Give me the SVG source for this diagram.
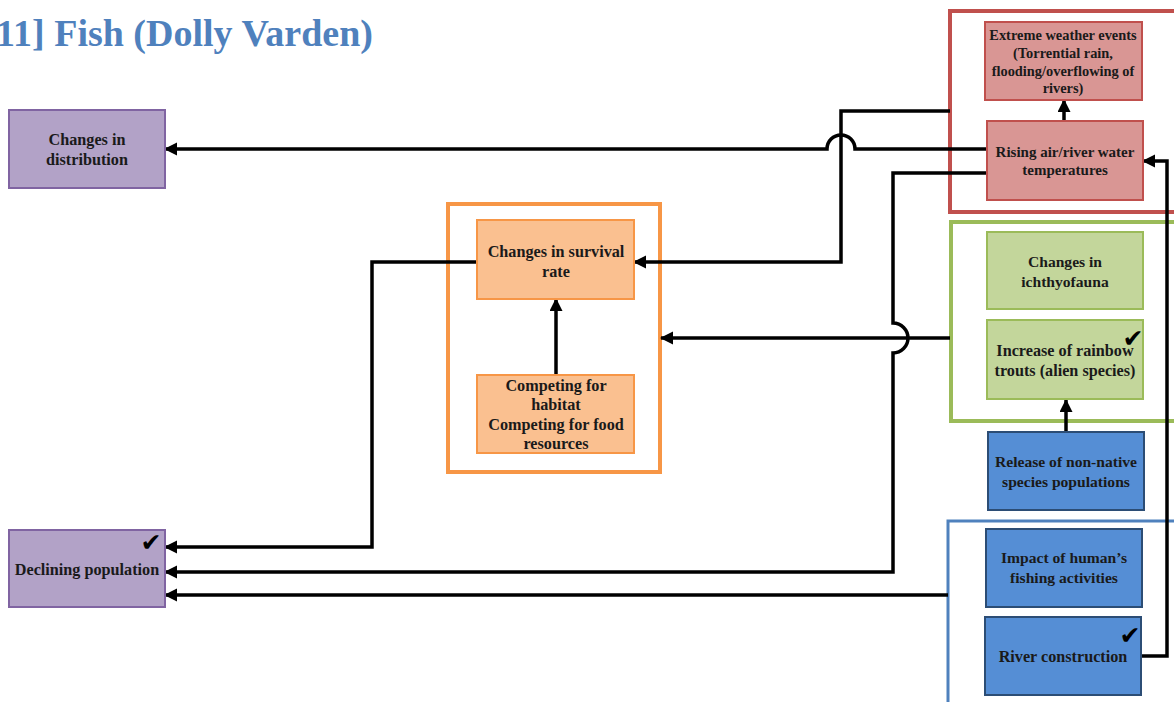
<svg xmlns="http://www.w3.org/2000/svg" width="1174" height="702" viewBox="0 0 1174 702">
<style>
.t{font-family:"Liberation Serif","Times New Roman",serif;font-weight:bold;font-size:16.2px;fill:#1a1a1a;text-anchor:middle}
.s{font-size:14.4px}
.r{font-size:15px}
.m{font-size:15.6px}
.ck{font-family:"DejaVu Sans",sans-serif;font-size:25px;fill:#000;text-anchor:middle}
.pu{fill:#b2a2c7;stroke:#8064a2;stroke-width:2}
.or{fill:#fac090;stroke:#f79646;stroke-width:2}
.rd{fill:#d99694;stroke:#c0504d;stroke-width:2}
.gr{fill:#c3d69b;stroke:#9bbb59;stroke-width:2}
.bl{fill:#558ed5;stroke:#2c4d75;stroke-width:2}
.c{fill:none;stroke:#000;stroke-width:3.5}
.a{marker-end:url(#ah)}
</style>
<defs>
<marker id="ah" markerUnits="userSpaceOnUse" markerWidth="14" markerHeight="14" refX="12" refY="6.5" orient="auto">
<path d="M0,0 L13,6.5 L0,13 z" fill="#000"/>
</marker>
</defs>
<rect width="1174" height="702" fill="#fff"/>
<text x="373" y="46" text-anchor="end" font-family="Liberation Serif, Times New Roman, serif" font-weight="bold" font-size="38" fill="#4f81bd">11] Fish (Dolly Varden)</text>

<g id="containers">
<rect x="950" y="11" width="240" height="201" fill="none" stroke="#c0504d" stroke-width="4"/>
<rect x="951" y="222" width="240" height="199" fill="none" stroke="#9bbb59" stroke-width="4"/>
<rect x="948" y="521" width="240" height="200" fill="none" stroke="#4f81bd" stroke-width="3"/>
<rect x="448" y="204" width="212" height="268" fill="none" stroke="#f79646" stroke-width="4"/>
</g>

<g id="connectors">
<path class="c a" d="M987,149 L855,149 A14,14 0 0 0 827,149 L165,149"/>
<path class="c a" d="M950,111 L841,111 L841,262 L634,262"/>
<path class="c a" d="M987,173 L893,173 L893,323 A15,15 0 0 1 893,353 L893,572 L165,572"/>
<path class="c a" d="M950,338 L661,338"/>
<path class="c a" d="M477,262 L372,262 L372,547 L165,547"/>
<path class="c a" d="M948,595 L165,595"/>
<path class="c a" d="M1066,432 L1066,400"/>
<path class="c a" d="M556,375 L556,299"/>
<path class="c a" d="M1064,121 L1064,100"/>
<path class="c a" d="M1141,656 L1167,656 L1167,161 L1143,161"/>
</g>

<g id="changes-distribution">
<rect class="pu" x="9" y="110" width="156" height="78"/>
<text class="t" x="87" y="145">Changes in</text>
<text class="t" x="87" y="165">distribution</text>
</g>
<g id="declining-population">
<rect class="pu" x="9" y="530" width="156" height="77"/>
<text class="t" x="87" y="575">Declining population</text>
<text class="ck" x="151" y="551">✔</text>
</g>
<g id="changes-survival">
<rect class="or" x="477" y="220" width="157" height="79"/>
<text class="t" x="556" y="257">Changes in survival</text>
<text class="t" x="556" y="277">rate</text>
</g>
<g id="competing">
<rect class="or" x="477" y="375" width="157" height="78"/>
<text class="t" x="556" y="391">Competing for</text>
<text class="t" x="556" y="410">habitat</text>
<text class="t" x="556" y="430">Competing for food</text>
<text class="t" x="556" y="449">resources</text>
</g>
<g id="extreme-weather">
<rect class="rd" x="985" y="22" width="157" height="78"/>
<text class="t s" x="1063" y="40">Extreme weather events</text>
<text class="t s" x="1063" y="58">(Torrential rain,</text>
<text class="t s" x="1063" y="76">flooding/overflowing of</text>
<text class="t s" x="1063" y="93">rivers)</text>
</g>
<g id="rising-temp">
<rect class="rd" x="987" y="121" width="156" height="79"/>
<text class="t r" x="1065" y="157">Rising air/river water</text>
<text class="t r" x="1065" y="175">temperatures</text>
</g>
<g id="ichthyofauna">
<rect class="gr" x="987" y="232" width="156" height="77"/>
<text class="t m" x="1065" y="267">Changes in</text>
<text class="t m" x="1065" y="287">ichthyofauna</text>
</g>
<g id="rainbow-trout">
<rect class="gr" x="987" y="320" width="156" height="79"/>
<text class="t" x="1065" y="356">Increase of rainbow</text>
<text class="t" x="1065" y="376">trouts (alien species)</text>
<text class="ck" x="1133" y="347">✔</text>
</g>
<g id="release-nonnative">
<rect class="bl" x="988" y="432" width="156" height="78"/>
<text class="t m" x="1066" y="467">Release of non-native</text>
<text class="t m" x="1066" y="487">species populations</text>
</g>
<g id="human-fishing">
<rect class="bl" x="986" y="529" width="156" height="78"/>
<text class="t m" x="1064" y="563">Impact of human’s</text>
<text class="t m" x="1064" y="583">fishing activities</text>
</g>
<g id="river-construction">
<rect class="bl" x="985" y="617" width="156" height="78"/>
<text class="t" x="1063" y="662">River construction</text>
<text class="ck" x="1130" y="644">✔</text>
</g>
</svg>
